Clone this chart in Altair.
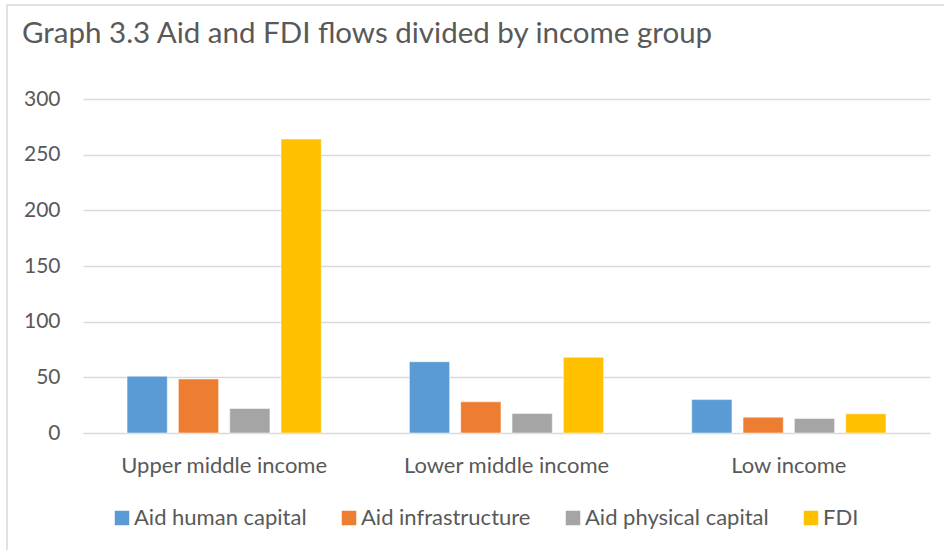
import altair as alt
import pandas as pd

groups = ["Upper middle income", "Lower middle income", "Low income"]
series = ["Aid human capital", "Aid infrastructure", "Aid physical capital", "FDI"]
colors = ["#5B9BD5", "#ED7D31", "#A5A5A5", "#FFC000"]
values = {
    "Aid human capital": [51, 64, 30],
    "Aid infrastructure": [48.5, 28, 14.2],
    "Aid physical capital": [22, 17.5, 13],
    "FDI": [264, 68, 17.2],
}

rows = []
for s in series:
    for g, v in zip(groups, values[s]):
        rows.append({"group": g, "series": s, "value": v})
df = pd.DataFrame(rows)

FONT = "Lato"
TXT = "#595959"

bars = alt.Chart(df).mark_bar(stroke="white", strokeWidth=0.5).encode(
    x=alt.X("group:N", sort=groups, title=None,
            scale=alt.Scale(paddingInner=0.312, paddingOuter=0.156),
            axis=alt.Axis(labelAngle=0, ticks=False, domain=True, domainColor="#D9D9D9",
                          domainWidth=1, labelPadding=22, labelFontSize=22, labelLimit=0,
                          labelColor=TXT, labelFont=FONT)),
    xOffset=alt.XOffset("series:N", sort=series,
                        scale=alt.Scale(paddingInner=0.216, paddingOuter=0)),
    y=alt.Y("value:Q", title=None,
            scale=alt.Scale(domain=[0, 300]),
            axis=alt.Axis(values=[0, 50, 100, 150, 200, 250, 300], ticks=False, domain=False,
                          grid=True, gridColor="#D9D9D9", gridWidth=1.3,
                          labelPadding=23, labelFontSize=21, labelColor=TXT, labelFont=FONT)),
    color=alt.Color("series:N", sort=series,
                    scale=alt.Scale(domain=series, range=colors),
                    legend=alt.Legend(title=None, orient="none", direction="horizontal",
                                      legendX=28, legendY=408,
                                      symbolType="square", symbolSize=210,
                                      symbolStrokeWidth=0, symbolOpacity=1,
                                      labelFontSize=22, labelColor=TXT, labelFont=FONT,
                                      labelLimit=0, labelOffset=1, columnPadding=31)),
)

frame = alt.Chart(pd.DataFrame({"k": [0]})).mark_rect(
    fill=None, stroke="#D9D9D9", strokeWidth=1.5, clip=False
).encode(
    x=alt.value(-76), x2=alt.value(870), y=alt.value(-94), y2=alt.value(460)
)

chart = alt.layer(frame, bars).properties(
    width=847, height=334,
    title=alt.TitleParams("Graph 3.3 Aid and FDI flows divided by income group",
                          anchor="start", frame="group", dx=-61, offset=0, dy=68,
                          baseline="alphabetic",
                          fontSize=29.5, font=FONT, fontWeight="normal", color=TXT),
    autosize=alt.AutoSizeParams(type="none"),
    padding={"left": 83, "top": 99, "right": 14, "bottom": 117},
).configure_view(stroke=None)

chart.save("out.html", embed_options={"renderer": "svg", "actions": False})
